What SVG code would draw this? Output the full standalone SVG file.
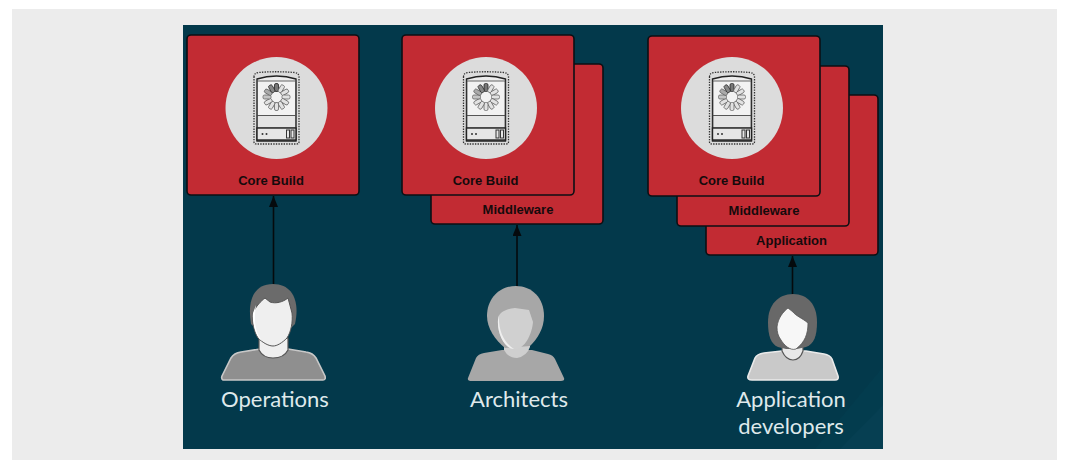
<svg xmlns="http://www.w3.org/2000/svg" width="1065" height="460" viewBox="0 0 1065 460">
<style>
.card{fill:#c22b33;stroke:#0c0f14;stroke-width:1.6}
.cl{font:bold 13px "Liberation Sans",Arial,sans-serif;fill:#150a0c;text-anchor:middle}
.pl{font:400 22px "Lato","Open Sans",sans-serif;fill:#dfe9eb;text-anchor:middle}
.conn{stroke:#050a0d;stroke-width:1.6;fill:none}
.sp{fill:#e2e2e2;stroke:#666;stroke-width:.8}
</style>
<defs>
<marker id="ah" markerUnits="userSpaceOnUse" markerWidth="11" markerHeight="9" refX="11" refY="4.500" orient="auto" viewBox="0 0 11 9"><path d="M0 0L11 4.500L0 9Z" fill="#050a0d"/></marker>
<g id="server">
<circle cx="0" cy="0" r="51" fill="#dcdcdc"/>
<path d="M-22.500 -31Q-22.500 -35 -18 -35.500Q0 -37 18 -35.500Q22.500 -35 22.500 -31V34Q22.500 36 20 36H-20Q-22.500 36 -22.500 34Z" fill="none" stroke="#333" stroke-width="1.300" stroke-dasharray="1.400 1.200"/>
<path d="M-19.500 -29Q-10 -32 0 -32T19.500 -29V33H-19.500Z" fill="#ececec" stroke="#222" stroke-width="1.400"/>
<rect x="-19" y="-27" width="38" height="34.500" fill="#f2f2f2" stroke="#444" stroke-width=".8"/>
<rect x="-19" y="7.500" width="38" height="12.500" fill="#e4e4e4" stroke="#444" stroke-width=".8"/>
<rect x="-19.500" y="20" width="39" height="12" fill="#e6e6e6" stroke="#222" stroke-width="1.400"/>
<g fill="#333"><circle cx="-14" cy="26" r="1"/><circle cx="-10" cy="26" r="1"/></g>
<g fill="none" stroke="#333" stroke-width="1"><rect x="10" y="22" width="3" height="8"/><rect x="14.500" y="22" width="3" height="8"/></g>
<g transform="translate(0 -11)">
<rect class="sp" x="-2" y="-13.500" width="4" height="8" rx="1.500" style="fill:#777;stroke:#222"/>
<rect class="sp" x="-2" y="-13.500" width="4" height="8" rx="1.500" transform="rotate(30)"/>
<rect class="sp" x="-2" y="-13.500" width="4" height="8" rx="1.500" transform="rotate(60)"/>
<rect class="sp" x="-2" y="-13.500" width="4" height="8" rx="1.500" transform="rotate(90)"/>
<rect class="sp" x="-2" y="-13.500" width="4" height="8" rx="1.500" transform="rotate(120)"/>
<rect class="sp" x="-2" y="-13.500" width="4" height="8" rx="1.500" transform="rotate(150)"/>
<rect class="sp" x="-2" y="-13.500" width="4" height="8" rx="1.500" transform="rotate(180)"/>
<rect class="sp" x="-2" y="-13.500" width="4" height="8" rx="1.500" transform="rotate(210)"/>
<rect class="sp" x="-2" y="-13.500" width="4" height="8" rx="1.500" transform="rotate(240)"/>
<rect class="sp" x="-2" y="-13.500" width="4" height="8" rx="1.500" transform="rotate(270)" style="fill:#c4c4c4"/>
<rect class="sp" x="-2" y="-13.500" width="4" height="8" rx="1.500" transform="rotate(300)" style="fill:#aaa"/>
<rect class="sp" x="-2" y="-13.500" width="4" height="8" rx="1.500" transform="rotate(330)" style="fill:#888;stroke:#333"/>
</g>
</g>
</defs>
<rect width="1065" height="460" fill="#fff"/>
<rect x="12" y="9" width="1045" height="451" fill="#ececec"/>
<rect x="183" y="25" width="700" height="424" fill="#03394b"/>
<path d="M883 367L815 449H883Z" fill="#033c4e"/>
<path d="M883 405L840 449H883Z" fill="#063f52"/>

<g id="connectors">
<line class="conn" x1="273.500" y1="285" x2="273.500" y2="196" marker-end="url(#ah)"/>
<line class="conn" x1="517" y1="287" x2="517" y2="225" marker-end="url(#ah)"/>
<line class="conn" x1="792.500" y1="295" x2="792.500" y2="256" marker-end="url(#ah)"/>
</g>

<g id="core-build-1">
<rect class="card" x="187" y="35" width="172" height="160" rx="4"/>
<use href="#server" x="276.500" y="108"/>
<text class="cl" x="271" y="185">Core Build</text>
</g>

<g id="middleware-2">
<rect class="card" x="431" y="64" width="172" height="160" rx="4"/>
<text class="cl" x="518" y="214">Middleware</text>
</g>
<g id="core-build-2">
<rect class="card" x="402" y="35" width="172" height="160" rx="4"/>
<use href="#server" x="486" y="108"/>
<text class="cl" x="485.500" y="185">Core Build</text>
</g>

<g id="application-3">
<rect class="card" x="706" y="95" width="172" height="160" rx="4"/>
<text class="cl" x="791.500" y="245">Application</text>
</g>
<g id="middleware-3">
<rect class="card" x="677" y="66" width="172" height="160" rx="4"/>
<text class="cl" x="764" y="215">Middleware</text>
</g>
<g id="core-build-3">
<rect class="card" x="648" y="36" width="172" height="160" rx="4"/>
<use href="#server" x="732" y="108"/>
<text class="cl" x="731.500" y="185">Core Build</text>
</g>

<g id="operations">
<path d="M223 380Q221 379 222 376L231 358Q234 353 241 352L260 349H288L306 352Q313 353 316 358L325 376Q326 380 323 380Z" fill="#8f8f8f" stroke="#c8c8c8" stroke-width="1.600"/>
<path d="M259 338V350Q263 358 273 358Q284 358 288 350V338Z" fill="#efefef" stroke="#555" stroke-width="1.200"/>
<path d="M251 324C247 300 254 284 273 284C293 284 300 302 295 324L291 328H255Z" fill="#6b6b6b"/>
<path d="M253 313C256 306 261 301 265 298L270 302C276 304 283 302 288 298L292 313C293 322 291 332 287 338C282 343 277 346 273 346C268 346 262 342 258 338C254 332 252 322 253 313Z" fill="#efefef" stroke="#555" stroke-width="1"/>
<path d="M256 305C254 318 254 330 262 341C256 336 252 324 253 313Z" fill="#fff"/>
<text class="pl" x="275" y="407">Operations</text>
</g>

<g id="architects">
<path d="M468 378L476 358Q478 354 484 353L502 350H532L548 354Q553 355 555 359L564 378Q565 381 561 381H472Q467 381 468 378Z" fill="#a7a7a7"/>
<path d="M504 338V350Q508 358 517 358Q527 356 530 347V338Z" fill="#cfcfcf"/>
<path d="M487 316C487 298 500 286 516 286C532 286 544 298 544 316C544 328 538 338 530 346L505 348C495 340 487 328 487 316Z" fill="#a7a7a7"/>
<path d="M498 320C498 313 505 309 515 308L529 310L533 322C532 335 524 349 516 349C505 349 497 334 498 320Z" fill="#d0d0d0"/>
<path d="M499 315C498 330 504 343 514 349C505 349 497 334 498 320Z" fill="#efefef"/>
<text class="pl" x="519" y="407">Architects</text>
</g>

<g id="application-developers">
<path d="M748 376L755 358Q757 354 764 353L782 351H806L824 354Q830 355 832 359L838 376Q839 380 835 380H752Q747 380 748 376Z" fill="#c9c9c9" stroke="#eaeaea" stroke-width="1.600"/>
<path d="M782 340V351Q786 360 793 360Q800 360 803 351V340Z" fill="#e8e8e8" stroke="#555" stroke-width="1.200"/>
<path d="M768 322C768 305 778 294 793 294C808 294 817 305 817 322C817 336 814 344 806 347L797 349H786L778 347C771 344 768 336 768 322Z" fill="#686868"/>
<path d="M777 327C778 318 783 312 788 308L793 312C796 316 802 318 808 323C808 334 805 342 796 349C790 351 784 345 781 340C778 336 777 332 777 327Z" fill="#f7f7f7" stroke="#555" stroke-width=".8"/>
<text class="pl"><tspan x="791" y="407">Application</tspan><tspan x="791" y="434">developers</tspan></text>
</g>
</svg>
